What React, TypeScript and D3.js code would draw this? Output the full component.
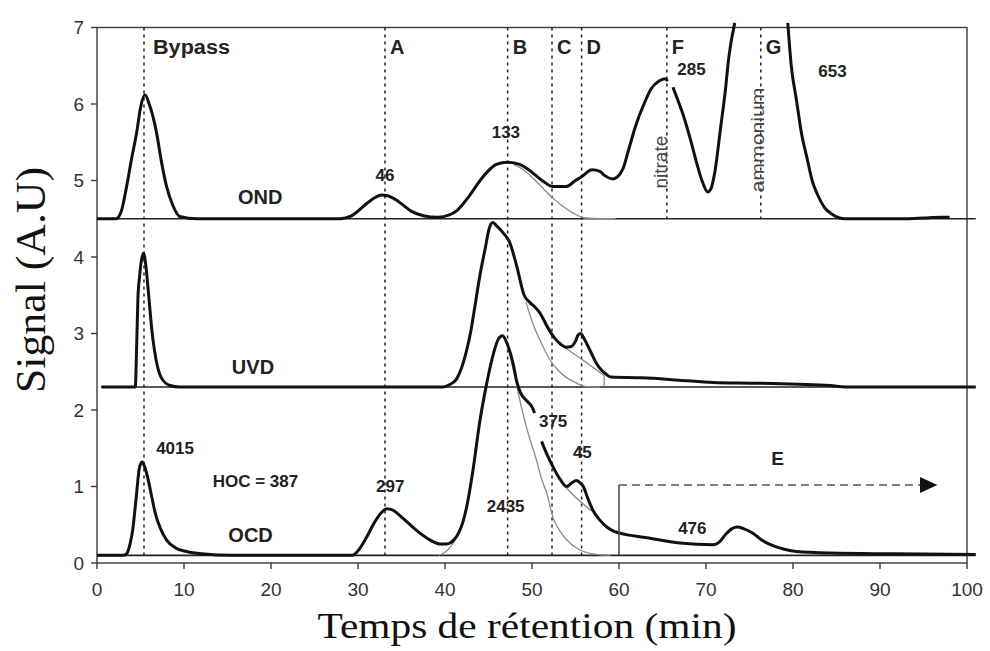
import * as d3 from "d3";

type Pt = [number, number] | null;

// OND trace (top panel), null = gap in the line
const ondTrace: Pt[] = [
  [0, 4.5], [2.2, 4.5], [2.8, 4.6], [3.4, 4.92], [4.0, 5.3], [4.55, 5.62], [5.0, 5.95], [5.5, 6.12],
  [6.0, 6.0], [6.4, 5.85], [6.85, 5.62], [7.4, 5.25], [8.0, 4.92], [8.7, 4.68], [9.5, 4.53], [11.5, 4.5],
  [15, 4.5], [20, 4.5], [28, 4.5], [29.1, 4.53], [30, 4.6], [31, 4.7], [32, 4.78], [32.7, 4.81],
  [33.4, 4.8], [34.6, 4.73], [36.1, 4.6], [37.5, 4.54], [39.2, 4.52], [40.5, 4.55], [41.4, 4.61],
  [42.8, 4.8], [44.1, 5.01], [45.0, 5.13], [45.9, 5.21], [47.2, 5.24], [48.6, 5.21], [49.5, 5.15],
  [50.3, 5.08], [51.4, 4.98], [52.4, 4.92], [53.9, 4.92], [55.0, 5.0], [55.7, 5.05], [56.9, 5.14],
  [57.8, 5.12], [58.3, 5.07], [59.3, 5.02], [60.4, 5.14], [61.1, 5.4], [61.9, 5.71], [62.8, 5.98],
  [63.7, 6.2], [64.6, 6.3], [65.3, 6.33], [65.6, 6.3], null,
  [66.2, 6.22], [66.6, 6.1], [67.4, 5.85], [68.2, 5.54], [69.0, 5.2], [69.5, 5.01], [70.2, 4.85],
  [70.6, 4.9], [71.0, 5.1], [71.7, 5.71], [72.2, 6.15], [72.6, 6.59], [73.3, 7.06], null,
  [79.4, 7.06], [79.8, 6.5], [80.4, 6.05], [81.0, 5.6], [81.6, 5.3], [82.2, 5.0], [82.8, 4.82],
  [83.6, 4.65], [84.5, 4.56], [86, 4.5], [93, 4.5], [95, 4.51], [97, 4.52], [98, 4.52],
];
const ondFit: Pt[] = [
  [47.9, 5.21], [49, 5.14], [50.3, 5.01], [51.5, 4.87], [52.6, 4.75], [53.7, 4.65], [54.8, 4.57],
  [56.1, 4.51], [58, 4.5], [59.6, 4.5],
];

// UVD trace (middle panel)
const uvdTrace: Pt[] = [
  [0.5, 2.3], [4.4, 2.3], [4.55, 2.8], [4.7, 3.45], [4.9, 3.75], [5.1, 3.95], [5.35, 4.05], [5.6, 3.9],
  [5.9, 3.55], [6.3, 3.05], [6.8, 2.65], [7.4, 2.42], [8.4, 2.32], [9.5, 2.3], [20, 2.3], [39.8, 2.3],
  [40.5, 2.33], [41.3, 2.4], [41.9, 2.55], [42.4, 2.74], [43.0, 3.05], [43.5, 3.4], [44.0, 3.75],
  [44.6, 4.1], [45.1, 4.38], [45.5, 4.45], [46.0, 4.4], [46.8, 4.3], [47.4, 4.2], [48.2, 3.9],
  [49.1, 3.5], [49.8, 3.4], [50.3, 3.35], [50.9, 3.27], [51.8, 3.08], [52.6, 2.94], [53.3, 2.86],
  [53.9, 2.82], [54.5, 2.83], [55.0, 2.9], [55.3, 2.98], [55.6, 3.0], [56.0, 2.93], [56.5, 2.82],
  [57.0, 2.7], [57.4, 2.61], [58.0, 2.52], [58.5, 2.47], [59.1, 2.43], [62.6, 2.42], [66.9, 2.39],
  [70.8, 2.36], [76, 2.35], [84.3, 2.32], [86, 2.3], [101, 2.3],
];
const uvdFitB: Pt[] = [
  [49.3, 3.41], [50.2, 3.1], [51.3, 2.82], [52.1, 2.65], [53, 2.52], [53.9, 2.43], [54.8, 2.37],
  [56.1, 2.31], [57.8, 2.3],
];
const uvdFitD: Pt[] = [[53.5, 2.84], [55, 2.72], [56.5, 2.6], [58.3, 2.45], [58.3, 2.3]];

// OCD trace (bottom panel)
const ocdTrace: Pt[] = [
  [0, 0.1], [3.0, 0.1], [3.4, 0.12], [3.8, 0.25], [4.1, 0.43], [4.5, 0.85], [4.9, 1.26], [5.2, 1.32],
  [5.5, 1.25], [5.9, 1.08], [6.3, 0.86], [6.7, 0.65], [7.3, 0.45], [8.0, 0.3], [9.0, 0.2], [10.3, 0.15],
  [12, 0.12], [15.6, 0.1], [29.3, 0.1], [30, 0.16], [31, 0.34], [32, 0.55], [32.7, 0.66], [33.3, 0.71],
  [34, 0.69], [35, 0.6], [36, 0.5], [36.7, 0.43], [38, 0.32], [39.4, 0.25], [40.2, 0.25], [41, 0.3],
  [41.6, 0.4], [42.1, 0.55], [42.5, 0.74], [43.2, 1.2], [44, 1.85], [44.8, 2.35], [45.6, 2.75],
  [46.1, 2.92], [46.6, 2.97], [47.2, 2.85], [47.8, 2.62], [48.3, 2.35], [48.7, 2.22], [49.4, 2.12],
  [50.0, 2.04], [50.3, 1.96], null,
  [51.1, 1.59], [51.8, 1.4], [52.4, 1.26], [53.2, 1.1], [54, 1.0], [54.6, 1.05], [55.1, 1.08],
  [55.5, 1.05], [55.9, 1.0], [56.4, 0.85], [57, 0.69], [57.8, 0.56], [58.6, 0.47], [59.3, 0.42],
  [60.1, 0.39], [63.2, 0.33], [67, 0.26], [70.8, 0.24], [71.5, 0.27], [72.3, 0.38], [73.0, 0.45],
  [73.6, 0.47], [74.3, 0.45], [75.4, 0.39], [76.4, 0.3], [77.4, 0.24], [79, 0.18], [80.4, 0.15],
  [84.3, 0.13], [91.6, 0.12], [101, 0.11],
];
const ocdFitLeft: Pt[] = [[39.3, 0.1], [40, 0.14], [40.7, 0.22], [41.3, 0.32], [42, 0.5]];
const ocdFitB: Pt[] = [
  [47.2, 2.85], [47.8, 2.55], [48.6, 2.13], [49.5, 1.72], [50.5, 1.35], [51.1, 1.1], [51.7, 0.91],
  [52.4, 0.6], [53.2, 0.42], [54, 0.3], [55.5, 0.17], [57, 0.12], [59, 0.1],
];
const ocdFitD: Pt[] = [[53.8, 1.0], [55, 0.86], [56, 0.76], [56.8, 0.68]];

// panel baselines
const baseLevels = [4.5, 2.3, 0.1];
const baseStarts = [0, 0.5, 0];

// fraction markers
const markerNames = ["Bypass", "A", "B", "C", "D", "F", "G"];
const markerX = [5.4, 33.1, 47.2, 52.3, 55.7, 65.5, 76.3];
const markerLow = [0.1, 0.1, 0.1, 0.1, 0.1, 4.5, 4.5];

const xTicks = [0, 10, 20, 30, 40, 50, 60, 70, 80, 90, 100];
const yTicks = [0, 1, 2, 3, 4, 5, 6, 7];

// annotations: text, x, y (data units), anchor
const notes: [string, number, number, string][] = [
  ["285", 66.7, 6.38, "start"],
  ["653", 82.9, 6.35, "start"],
  ["133", 47.0, 5.56, "middle"],
  ["46", 33.1, 5.0, "middle"],
  ["4015", 6.8, 1.42, "start"],
  ["HOC = 387", 13.3, 0.99, "start"],
  ["297", 33.7, 0.93, "middle"],
  ["2435", 44.8, 0.67, "start"],
  ["375", 50.8, 1.78, "start"],
  ["45", 54.7, 1.37, "start"],
  ["476", 66.8, 0.38, "start"],
];
const traceNames: [string, number, number][] = [
  ["OND", 16.2, 4.69],
  ["UVD", 15.5, 2.47],
  ["OCD", 15.1, 0.27],
];

const sans = "'Liberation Sans', Arial, sans-serif";
const serif = "'Liberation Serif', 'Times New Roman', serif";

export default function App() {
  const width = 990;
  const height = 651;
  const x = d3.scaleLinear().domain([0, 100]).range([97, 967]);
  const y = d3.scaleLinear().domain([0, 7]).range([563, 27.5]);

  const line = d3
    .line<Pt>()
    .defined((d) => d !== null)
    .x((d) => x(d![0]))
    .y((d) => y(d![1]))
    .curve(d3.curveMonotoneX);
  const straight = d3
    .line<Pt>()
    .x((d) => x(d![0]))
    .y((d) => y(d![1]));

  const frame = "#3a3a3a";
  const arrowY = y(1.02);

  return (
    <svg
      width={width}
      height={height}
      style={{ position: "absolute", left: 0, top: 0, background: "#fff" }}
    >
      {/* frame */}
      <rect
        x={x(0)}
        y={y(7)}
        width={x(100) - x(0)}
        height={y(0) - y(7)}
        fill="none"
        stroke={frame}
        strokeWidth={1.4}
      />
      {yTicks.map((t) => (
        <g key={"y" + t}>
          <line x1={x(0) - 6} x2={x(0)} y1={y(t)} y2={y(t)} stroke={frame} strokeWidth={1.4} />
          <text
            x={x(0) - 13}
            y={y(t)}
            textAnchor="end"
            dominantBaseline="central"
            fontFamily={sans}
            fontSize={19}
            fill="#333"
          >
            {t}
          </text>
        </g>
      ))}
      {xTicks.map((t) => (
        <g key={"x" + t}>
          <line x1={x(t)} x2={x(t)} y1={y(0)} y2={y(0) + 6} stroke={frame} strokeWidth={1.4} />
          <text x={x(t)} y={596} textAnchor="middle" fontFamily={sans} fontSize={19} fill="#333">
            {t}
          </text>
        </g>
      ))}

      {/* panel baselines */}
      {baseLevels.map((b, i) => (
        <line
          key={"b" + i}
          x1={x(baseStarts[i])}
          x2={x(101)}
          y1={y(b)}
          y2={y(b)}
          stroke="#222"
          strokeWidth={1.6}
        />
      ))}

      {/* fraction markers */}
      {markerX.map((m, i) => (
        <line
          key={"m" + i}
          x1={x(m)}
          x2={x(m)}
          y1={y(7)}
          y2={y(markerLow[i])}
          stroke="#222"
          strokeWidth={1.5}
          strokeDasharray="3,4"
        />
      ))}
      {markerNames.map((n, i) => (
        <text
          key={"mn" + i}
          x={x(markerX[i]) + (i === 0 ? 9 : 5)}
          y={54}
          fontFamily={sans}
          fontWeight="bold"
          fontSize={20}
          textLength={i === 0 ? 77 : undefined}
          lengthAdjust="spacingAndGlyphs"
          fill="#222"
        >
          {n}
        </text>
      ))}

      {/* fitted components */}
      {[ondFit, uvdFitB, ocdFitLeft, ocdFitB, ocdFitD].map((s, i) => (
        <path key={"f" + i} d={line(s) || ""} fill="none" stroke="#8a8a8a" strokeWidth={1.3} />
      ))}
      <path d={straight(uvdFitD) || ""} fill="none" stroke="#8a8a8a" strokeWidth={1.3} />

      {/* traces */}
      {[ondTrace, uvdTrace, ocdTrace].map((s, i) => (
        <path
          key={"t" + i}
          d={line(s) || ""}
          fill="none"
          stroke="#111"
          strokeWidth={3}
          strokeLinejoin="round"
        />
      ))}

      {/* E range */}
      <line x1={x(60)} x2={x(60)} y1={arrowY} y2={y(0.1)} stroke="#444" strokeWidth={1.5} />
      <line
        x1={x(60)}
        x2={x(94.6)}
        y1={arrowY}
        y2={arrowY}
        stroke="#555"
        strokeWidth={1.6}
        strokeDasharray="8,5"
      />
      <polygon
        points={`${x(94.6)},${arrowY - 8} ${x(96.6)},${arrowY} ${x(94.6)},${arrowY + 8}`}
        fill="#111"
      />
      <text x={x(77.5)} y={y(1.28)} fontFamily={sans} fontWeight="bold" fontSize={19} fill="#222">
        E
      </text>

      {/* annotations */}
      {notes.map(([t, nx, ny, a], i) => (
        <text
          key={"n" + i}
          x={x(nx)}
          y={y(ny)}
          textAnchor={a}
          fontFamily={sans}
          fontWeight="bold"
          fontSize={17}
          fill="#222"
        >
          {t}
        </text>
      ))}
      {traceNames.map(([t, nx, ny], i) => (
        <text
          key={"tn" + i}
          x={x(nx)}
          y={y(ny)}
          fontFamily={sans}
          fontWeight="bold"
          fontSize={20}
          fill="#222"
        >
          {t}
        </text>
      ))}
      <text
        transform={`translate(${x(64.8)},${y(5.24)}) rotate(-90)`}
        textAnchor="middle"
        dominantBaseline="central"
        fontFamily={sans}
        fontSize={19}
        fill="#444"
      >
        nitrate
      </text>
      <text
        transform={`translate(${x(75.95)},${y(5.53)}) rotate(-90)`}
        textAnchor="middle"
        dominantBaseline="central"
        fontFamily={sans}
        fontSize={19}
        textLength={105}
        lengthAdjust="spacingAndGlyphs"
        fill="#444"
      >
        ammonium
      </text>

      {/* axis titles */}
      <text
        transform="translate(45,280) rotate(-90)"
        textAnchor="middle"
        fontFamily={serif}
        fontSize={42}
        textLength={226}
        lengthAdjust="spacingAndGlyphs"
        fill="#111"
      >
        Signal (A.U)
      </text>
      <text
        x={527}
        y={638}
        textAnchor="middle"
        fontFamily={serif}
        fontSize={35}
        textLength={419}
        lengthAdjust="spacingAndGlyphs"
        fill="#111"
      >
        Temps de rétention (min)
      </text>
    </svg>
  );
}
